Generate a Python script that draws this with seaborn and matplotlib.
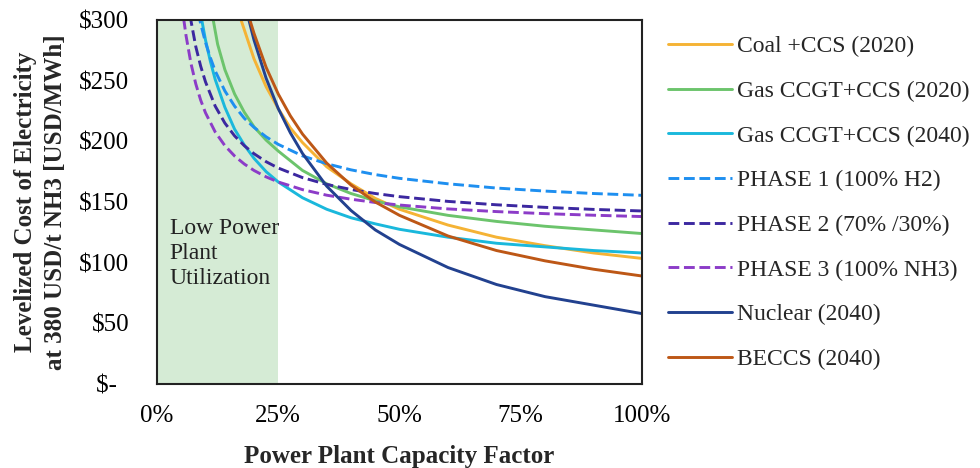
import matplotlib
matplotlib.use("Agg")
import matplotlib.pyplot as plt
import seaborn as sns
import pandas as pd

# Capacity factor (%) and levelized cost (USD/MWh)
coal_x = [17, 18, 20, 22.5, 25, 27.5, 30, 35, 40, 45, 50, 60, 70, 80, 90, 100]
coal_y = [304, 292, 268, 245, 227, 211, 199, 179, 165, 153, 144, 131, 121, 114, 108, 103.5]

gas20_x = [11.5, 12.5, 14, 16, 18, 20, 22.5, 25, 30, 35, 40, 45, 50, 60, 70, 80, 90, 100]
gas20_y = [302, 280, 259, 239, 224, 212, 201, 192, 176, 165, 157, 151, 146, 139, 134, 130, 127, 124]

gas40_x = [9, 10, 11, 12, 14, 16, 18, 20, 22.5, 25, 30, 35, 40, 45, 50, 60, 70, 80, 90, 100]
gas40_y = [305, 283.5, 266, 251, 228, 210, 197, 186, 175, 166.5, 153.5, 144, 137, 132, 127.5, 121, 116, 113, 110, 108]

ph1_x = [8.5, 9, 10, 11, 12, 14, 16, 18, 20, 22.5, 25, 30, 35, 40, 45, 50, 60, 70, 80, 90, 100]
ph1_y = [306, 297, 281.5, 269, 258, 241.5, 229, 219, 211.5, 203.7, 197.5, 188, 181.5, 176.5, 172.6, 169.5, 165, 161.5, 159, 157, 155.5]

ph2_x = [6.8, 7, 8, 9, 10, 12, 14, 16, 18, 20, 22.5, 25, 30, 35, 40, 45, 50, 60, 70, 80, 90, 100]
ph2_y = [304, 299.4, 278, 262, 249, 229, 215, 204.5, 196.4, 189.8, 183.2, 178, 170.1, 164.5, 160.3, 157, 154.4, 150.5, 147.7, 145.6, 143.9, 142.6]

ph3_x = [5.5, 6, 7, 8, 9, 10, 12, 14, 16, 18, 20, 22.5, 25, 30, 35, 40, 45, 50, 60, 70, 80, 90, 100]
ph3_y = [301, 286.8, 264.2, 247.3, 234, 223.5, 207.7, 196.4, 187.9, 181.3, 176, 170.7, 166.5, 160.2, 155.6, 152.3, 149.6, 147.5, 144.3, 142.1, 140.4, 139.1, 138]

nuc_x = [18, 20, 22.5, 25, 27.5, 30, 35, 40, 45, 50, 60, 70, 80, 90, 100]
nuc_y = [315, 283.5, 252, 227, 207, 190, 163, 143, 127, 115, 96, 82, 72, 65, 58]

beccs_x = [19, 20, 22.5, 25, 27.5, 30, 35, 40, 45, 50, 60, 70, 80, 90, 100]
beccs_y = [302, 289, 261, 239, 221, 206, 182, 164, 150, 139, 122, 110, 101.5, 94.6, 89]

labels = ["Coal +CCS (2020)", "Gas CCGT+CCS (2020)", "Gas CCGT+CCS (2040)",
          "PHASE 1 (100% H2)", "PHASE 2 (70% /30%)", "PHASE 3 (100% NH3)",
          "Nuclear (2040)", "BECCS (2040)"]
xs = [coal_x, gas20_x, gas40_x, ph1_x, ph2_x, ph3_x, nuc_x, beccs_x]
ys = [coal_y, gas20_y, gas40_y, ph1_y, ph2_y, ph3_y, nuc_y, beccs_y]

colors = ["#f5b335", "#6cc46c", "#1ab8dc", "#1e8ff0", "#3c28a0", "#8c3cc8", "#22418f", "#bd5716"]
styles = ["-", "-", "-", "--", "--", "--", "-", "-"]

yticks = [0, 50, 100, 150, 200, 250, 300]
ytick_labels = ["$-  ", "$50", "$100", "$150", "$200", "$250", "$300"]
xticks = [0, 25, 50, 75, 100]
xtick_labels = ["0%", "25%", "50%", "75%", "100%"]

sns.set_theme(style="white")
plt.rcParams["font.family"] = ["Liberation Serif", "DejaVu Serif"]

fig = plt.figure(figsize=(9.8, 4.68), dpi=100)
ax = fig.add_axes([157 / 980, 1 - 384 / 468, (642 - 157) / 980, (384 - 20) / 468])

ax.axvspan(0, 25, color="#d5ebd5", zorder=0, lw=0)

for x, y, lab, c, ls in zip(xs, ys, labels, colors, styles):
    df = pd.DataFrame({"x": x, "y": y})
    sns.lineplot(data=df, x="x", y="y", ax=ax, color=c, linestyle=ls, lw=2.1, label=lab)

ax.set_xlim(0, 100)
ax.set_ylim(0, 300)
ax.set_xticks(xticks)
ax.set_xticklabels(xtick_labels)
ax.set_yticks(yticks)
ax.set_yticklabels(ytick_labels)
ax.tick_params(axis="both", direction="in", length=6, width=1.2, colors="black", labelsize=18)
ax.tick_params(axis="y", pad=20)
ax.tick_params(axis="x", pad=15)
for s in ax.spines.values():
    s.set_color("#222222")
    s.set_linewidth(1.5)

ax.set_xlabel("Power Plant Capacity Factor", fontsize=18, fontweight="bold", labelpad=13)
ax.set_ylabel("Levelized Cost of Electricity\nat 380 USD/t NH3 [USD/MWh]", fontsize=18,
              fontweight="bold", labelpad=9, linespacing=1.35)

ax.text(2.6, 137, "Low Power\nPlant\nUtilization", fontsize=17, va="top", ha="left",
        linespacing=1.27, color="#222222")

leg = ax.legend(loc="upper left", bbox_to_anchor=(656 / 980, 1 - 24 / 468),
                bbox_transform=fig.transFigure, frameon=False, fontsize=17,
                handlelength=2.7, handletextpad=0.25, labelspacing=0.98, borderpad=0)

fig.savefig("out.png", dpi=100, facecolor="white")
